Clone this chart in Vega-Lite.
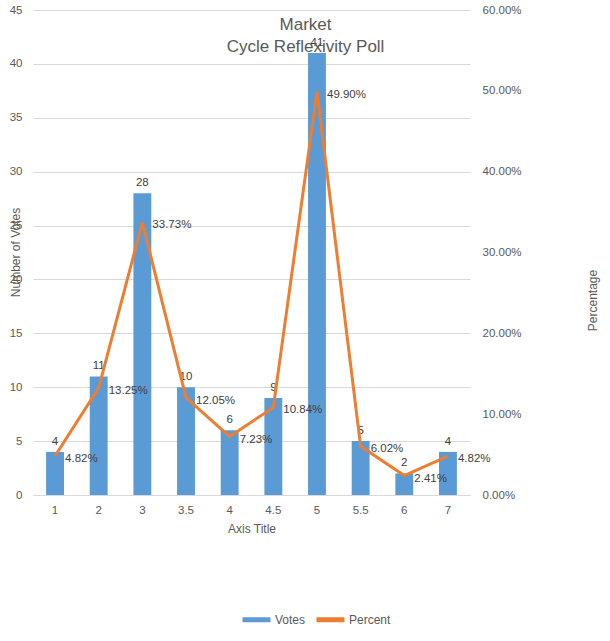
{
  "$schema": "https://vega.github.io/schema/vega-lite/v6.json",
  "autosize": {"type": "none"},
  "width": 437,
  "height": 485,
  "padding": {"left": 33, "top": 10, "right": 140, "bottom": 146},
  "background": "white",
  "title": {
    "text": ["Market", "Cycle  Reflexivity Poll"],
    "font": "Liberation Sans",
    "fontSize": 17,
    "fontWeight": "normal",
    "color": "#595959",
    "anchor": "middle",
    "dx": 54,
    "dy": 56,
    "lineHeight": 22
  },
  "config": {
    "view": {"stroke": null},
    "font": "Liberation Sans",
    "axis": {"labelFont": "Liberation Sans", "titleFont": "Liberation Sans", "labelColor": "#595959", "titleColor": "#595959", "titleFontWeight": "normal", "labelFontSize": 11.5, "titleFontSize": 12, "labelOverlap": false}
  },
  "data": {"values": [
    {"rating": "1", "votes": 4, "percent": 0.0482},
    {"rating": "2", "votes": 11, "percent": 0.1325},
    {"rating": "3", "votes": 28, "percent": 0.3373},
    {"rating": "3.5", "votes": 10, "percent": 0.1205},
    {"rating": "4", "votes": 6, "percent": 0.0723},
    {"rating": "4.5", "votes": 9, "percent": 0.1084},
    {"rating": "5", "votes": 41, "percent": 0.499},
    {"rating": "5.5", "votes": 5, "percent": 0.0602},
    {"rating": "6", "votes": 2, "percent": 0.0241},
    {"rating": "7", "votes": 4, "percent": 0.0482}
  ]},
  "encoding": {
    "x": {"field": "rating", "type": "ordinal", "sort": null,
      "scale": {"paddingInner": 0.59, "paddingOuter": 0.3},
      "axis": {"title": "Axis Title", "labelAngle": 0, "ticks": false, "domainColor": "#d9d9d9", "labelPadding": 9, "titlePadding": 8}}
  },
  "layer": [
    {
      "encoding": {
        "y": {"field": "votes", "type": "quantitative", "scale": {"domain": [0, 45]},
          "axis": {"title": "Number of Votes", "orient": "left", "values": [0,5,10,15,20,25,30,35,40,45], "ticks": false, "domain": false, "gridColor": "#d9d9d9", "labelPadding": 11, "labelFlush": false, "titleX": -18, "titleY": 242, "titleAngle": 270, "titleAlign": "center", "titleBaseline": "middle"}}
      },
      "layer": [
        {"mark": {"type": "bar"}, "encoding": {"color": {"datum": "Votes", "type": "nominal", "scale": {"domain": ["Votes", "Percent"], "range": ["#5b9bd5", "#ed7d31"]},
          "legend": {"title": null, "orient": "none", "direction": "horizontal", "legendX": 207, "legendY": 593, "symbolType": "stroke", "symbolSize": 784, "symbolStrokeWidth": 5, "labelFont": "Liberation Sans", "labelFontSize": 12, "labelColor": "#595959", "columnPadding": 0, "labelOffset": 2}}}},
        {"mark": {"type": "text", "baseline": "bottom", "dy": -5, "fontSize": 11.5, "color": "#404040"}, "encoding": {"text": {"field": "votes"}}}
      ]
    },
    {
      "encoding": {
        "y": {"field": "percent", "type": "quantitative", "scale": {"domain": [0, 0.6]},
          "axis": {"title": "Percentage", "orient": "right", "format": ".2%", "values": [0,0.1,0.2,0.3,0.4,0.5,0.6], "ticks": false, "domain": false, "grid": false, "labelPadding": 12, "labelFlush": false, "titleX": 122, "titleY": 290, "titleAngle": 270, "titleAlign": "center", "titleBaseline": "middle"}}
      },
      "layer": [
        {"mark": {"type": "line", "strokeWidth": 3}, "encoding": {"color": {"datum": "Percent", "type": "nominal"}}},
        {"mark": {"type": "text", "align": "left", "baseline": "middle", "dx": 10, "dy": 3, "fontSize": 11.5, "color": "#404040"}, "encoding": {"text": {"field": "percent", "format": ".2%"}}}
      ]
    }
  ],
  "resolve": {"scale": {"y": "independent"}}
}
